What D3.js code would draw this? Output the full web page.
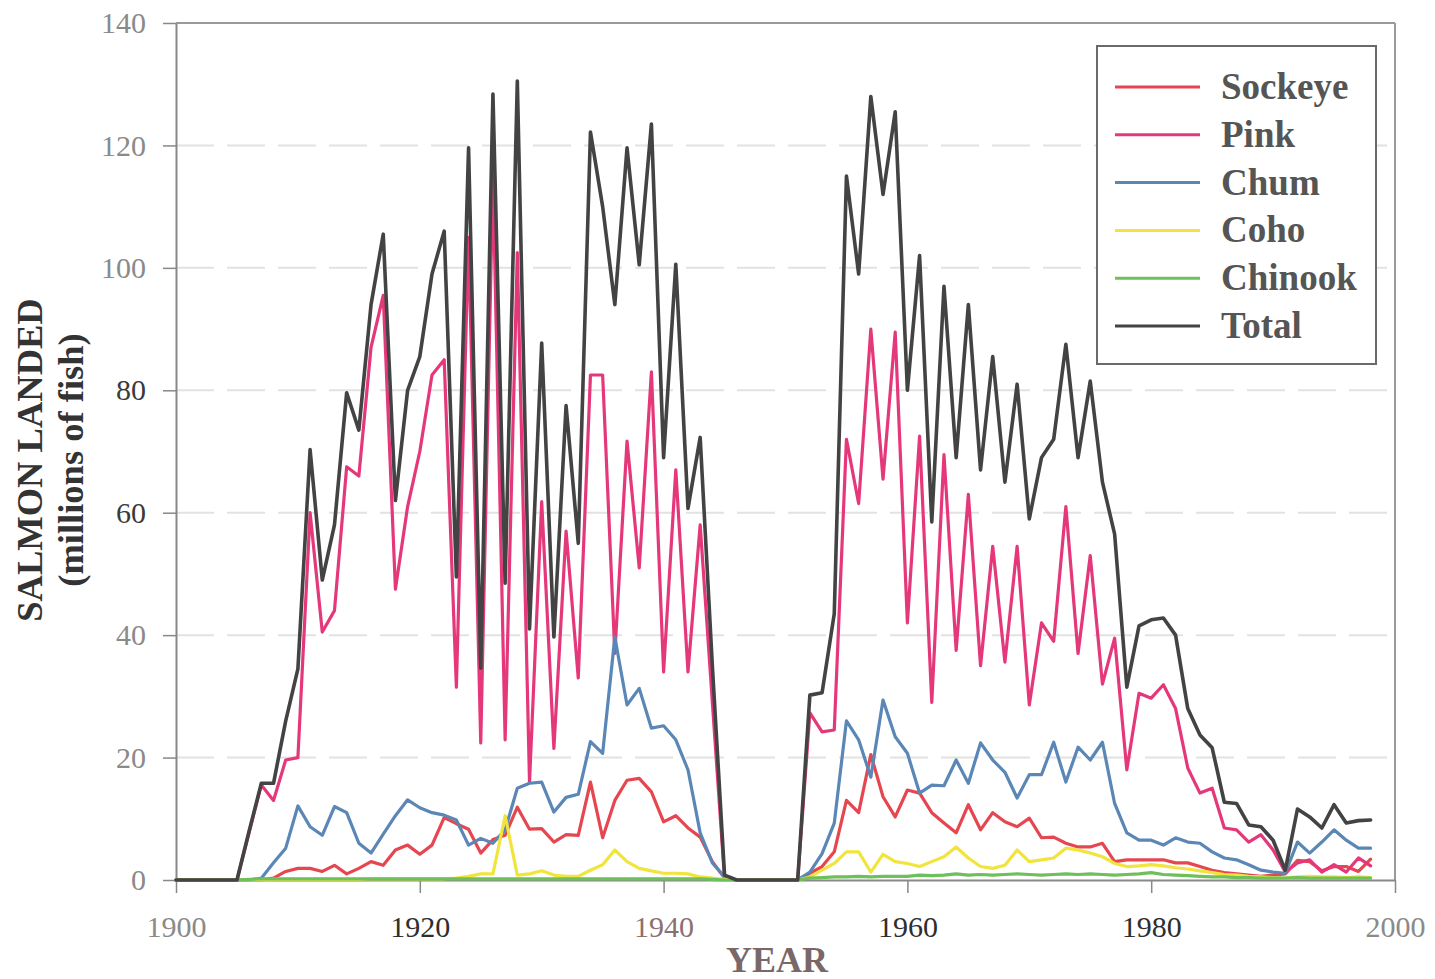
<!DOCTYPE html>
<html>
<head>
<meta charset="utf-8">
<script src="https://cdn.jsdelivr.net/npm/d3@7"></script>
<style>
  html, body { margin: 0; padding: 0; background: #fff; }
  svg { display: block; }
  text { font-family: "Liberation Serif", "DejaVu Serif", serif; }
</style>
</head>
<body>
<svg id="chart" width="1435" height="979"></svg>
<script>
// Salmon landed per year, millions of fish
const years = [
  1900,1901,1902,1903,1904,1905,1906,1907,1908,1909,
  1910,1911,1912,1913,1914,1915,1916,1917,1918,1919,
  1920,1921,1922,1923,1924,1925,1926,1927,1928,1929,
  1930,1931,1932,1933,1934,1935,1936,1937,1938,1939,
  1940,1941,1942,1943,1944,1945,1946,1947,1948,1949,
  1950,1951,1952,1953,1954,1955,1956,1957,1958,1959,
  1960,1961,1962,1963,1964,1965,1966,1967,1968,1969,
  1970,1971,1972,1973,1974,1975,1976,1977,1978,1979,
  1980,1981,1982,1983,1984,1985,1986,1987,1988,1989,
  1990,1991,1992,1993,1994,1995,1996,1997,1998
];

const sockeye = [
  0,0,0,0,0,0,0,0,0.3,1.4,
  1.9,1.9,1.4,2.4,1,1.9,3,2.4,4.9,5.7,
  4.2,5.7,10.2,9.2,8.3,4.4,6.6,7.3,11.9,8.3,
  8.4,6.2,7.4,7.3,16,6.9,13,16.3,16.6,14.4,
  9.5,10.5,8.5,7,3,0.3,0,0,0,0,
  0,0,1.1,2.2,4.6,13,11,20.5,13.6,10.3,
  14.7,14.2,11,9.3,7.7,12.3,8.2,11,9.5,8.7,
  10.1,6.9,7,6,5.4,5.4,6,3,3.3,3.3,
  3.3,3.3,2.8,2.8,2.2,1.6,1.2,1,0.8,0.6,
  0.8,1,3.2,3,1.5,2.2,2.2,1.4,3.4
];

const pink = [
  0,0,0,0,0,0,7.8,15.5,13,19.6,
  20,60,40.5,44,67.5,66,87,95.5,47.5,61,
  70,82.5,85,31.5,105,22.4,115,22.9,102.5,16,
  61.8,21.5,57,33,82.5,82.5,37,71.7,51,83,
  34,67,34,58,29,0.2,0,0,0,0,
  0,0,27.3,24.2,24.5,72,61.5,90,65.5,89.5,
  42,72.5,29,69.5,37.5,63,35,54.5,35.6,54.5,
  28.6,42,39,61,37,53,32,39.5,18,30.5,
  29.7,31.9,28,18.3,14.2,15,8.5,8.2,6.2,7.4,
  4.9,1.3,2.8,3.3,1.3,2.5,1.3,3.6,2.3
];

const chum = [
  0,0,0,0,0,0,0,0.3,2.8,5.2,
  12.1,8.7,7.3,12,11,6,4.4,7.5,10.5,13.1,
  11.8,11,10.6,9.8,5.7,6.8,6,8.2,15,15.8,
  16,11.1,13.5,14,22.6,20.7,39.7,28.6,31.3,24.8,
  25.2,22.9,18,7.7,2.8,0.5,0,0,0,0,
  0,0,1.3,4.3,9.3,26,22.9,16.8,29.4,23.4,
  20.7,14.2,15.5,15.4,19.6,15.8,22.4,19.6,17.6,13.4,
  17.2,17.2,22.5,16,21.7,19.6,22.5,12.5,7.7,6.5,
  6.5,5.7,6.9,6.2,6,4.6,3.6,3.3,2.5,1.6,
  1.3,1.1,6.2,4.4,6.2,8.2,6.5,5.2,5.2
];

const coho = [
  0,0,0,0,0,0,0,0,0.1,0.1,
  0.1,0.1,0.1,0.1,0.1,0.1,0.2,0.2,0.2,0.2,
  0.2,0.2,0.2,0.3,0.6,1,1,10.5,0.8,1,
  1.5,0.8,0.6,0.6,1.6,2.5,4.9,3,1.9,1.5,
  1.1,1.1,1,0.5,0.3,0.1,0,0,0,0,
  0,0,0.5,1.6,2.7,4.6,4.6,1.3,4.2,3,
  2.7,2.2,3,3.8,5.4,3.6,2.2,1.9,2.4,4.9,
  3,3.3,3.6,5.2,4.9,4.4,3.8,2.7,2.2,2.3,
  2.5,2.3,2,1.8,1.5,1.2,0.9,0.8,0.6,0.5,
  0.4,0.3,0.5,0.6,0.5,0.5,0.4,0.5,0.4
];

const chinook = [
  0,0,0,0,0,0,0.1,0.2,0.2,0.2,
  0.2,0.2,0.2,0.2,0.2,0.2,0.2,0.2,0.2,0.2,
  0.2,0.2,0.2,0.2,0.2,0.2,0.2,0.2,0.2,0.2,
  0.2,0.2,0.2,0.2,0.2,0.2,0.2,0.2,0.2,0.2,
  0.2,0.2,0.2,0.2,0.1,0,0,0,0,0,
  0,0,0.3,0.4,0.5,0.5,0.6,0.5,0.6,0.6,
  0.6,0.8,0.7,0.8,1.0,0.8,0.9,0.8,0.9,1.0,
  0.9,0.8,0.9,1.0,0.9,1.0,0.9,0.8,0.9,1.0,
  1.2,0.9,0.8,0.7,0.6,0.5,0.5,0.4,0.4,0.3,
  0.3,0.3,0.4,0.3,0.3,0.3,0.3,0.3,0.3
];

const total = [
  0,0,0,0,0,0,8,15.8,15.8,26,
  34.5,70.3,49,58,79.6,73.5,94,105.5,62,80,
  85.5,99,106,49.5,119.6,34.6,128.4,48.5,130.5,41,
  87.7,39.7,77.5,55,122.2,110,94,119.6,100.5,123.5,
  69,100.6,60.7,72.3,35,0.8,0,0,0,0,
  0,0,30.2,30.6,43.5,115,99,128,112,125.5,
  80,102,58.5,97,69,94,67,85.5,65,81,
  59,69,72,87.5,69,81.5,65,56.5,31.5,41.5,
  42.5,42.8,40,28,23.7,21.6,12.7,12.5,9,8.7,
  6.5,1.6,11.6,10.3,8.5,12.3,9.3,9.7,9.8
];

const seriesNames = ["Sockeye", "Pink", "Chum", "Coho", "Chinook", "Total"];
const seriesValues = [sockeye, pink, chum, coho, chinook, total];

const xTicks = [1900, 1920, 1940, 1960, 1980, 2000];
const yTicks = [0, 20, 40, 60, 80, 100, 120, 140];

const yTitle = ["SALMON LANDED", "(millions of fish)"];
const xTitle = "YEAR";

// ---- drawing ----
const colors = {
  Sockeye: "#e6464f",
  Pink: "#e5387a",
  Chum: "#5a87b6",
  Coho: "#f1e43c",
  Chinook: "#6fbf5a",
  Total: "#434343"
};

const svg = d3.select("#chart");
const plotLeft = 176, plotRight = 1395, plotTop = 23, plotBottom = 880;

const x = d3.scaleLinear().domain([1900, 2000]).range([plotLeft, plotRight]);
const y = d3.scaleLinear().domain([0, 140]).range([plotBottom, plotTop]);

// dashed gridlines
svg.append("g")
  .selectAll("line")
  .data(yTicks.filter(t => t > 0 && t < 140))
  .join("line")
  .attr("x1", plotLeft).attr("x2", plotRight)
  .attr("y1", d => y(d)).attr("y2", d => y(d))
  .attr("stroke", "#e2e2e2")
  .attr("stroke-width", 2)
  .attr("stroke-dasharray", "38,13");

// plot frame (top and right edges)
svg.append("line")
  .attr("x1", plotLeft).attr("x2", plotRight).attr("y1", plotTop).attr("y2", plotTop)
  .attr("stroke", "#9a9a9a").attr("stroke-width", 2);
svg.append("line")
  .attr("x1", plotRight).attr("x2", plotRight).attr("y1", plotTop).attr("y2", plotBottom)
  .attr("stroke", "#9a9a9a").attr("stroke-width", 2);

// axes
const yLabelColor = v => (v === 60 || v === 80) ? "#3a3a3a" : "#8a8a8a";
const xLabelColor = v => (v === 1920 || v === 1960 || v === 1980) ? "#2e2e2e"
  : (v === 1940 ? "#8c7070" : "#8a8a8a");

const yAxis = svg.append("g")
  .attr("transform", `translate(${plotLeft},0)`)
  .call(d3.axisLeft(y).tickValues(yTicks).tickSize(13).tickPadding(17).tickSizeOuter(0));
yAxis.select(".domain").attr("stroke", "#888").attr("stroke-width", 2);
yAxis.selectAll(".tick line").attr("stroke", "#888").attr("stroke-width", 1.5);
yAxis.selectAll(".tick text")
  .attr("font-family", "Liberation Serif, serif")
  .attr("font-size", 30)
  .attr("fill", d => yLabelColor(d));

const xAxis = svg.append("g")
  .attr("transform", `translate(0,${plotBottom})`)
  .call(d3.axisBottom(x).tickValues(xTicks).tickFormat(d3.format("d"))
    .tickSize(13).tickPadding(23).tickSizeOuter(0));
xAxis.select(".domain").attr("stroke", "#888").attr("stroke-width", 2);
xAxis.selectAll(".tick line").attr("stroke", "#888").attr("stroke-width", 1.5);
xAxis.selectAll(".tick text")
  .attr("font-family", "Liberation Serif, serif")
  .attr("font-size", 30)
  .attr("fill", d => xLabelColor(d));

// series lines
const line = d3.line()
  .x((d, i) => x(years[i]))
  .y(d => y(d));

const lineG = svg.append("g");
seriesNames.forEach((name, k) => {
  lineG.append("path")
    .datum(seriesValues[k])
    .attr("d", line)
    .attr("fill", "none")
    .attr("stroke", colors[name])
    .attr("stroke-width", name === "Total" ? 3.6 : 3.2)
    .attr("stroke-linejoin", "round")
    .attr("stroke-linecap", "round");
});

// axis titles
const yt = svg.append("text")
  .attr("transform", "translate(42,460) rotate(-90)")
  .attr("text-anchor", "middle")
  .attr("font-weight", "bold")
  .attr("font-size", 36.5)
  .attr("fill", "#333");
yt.append("tspan").attr("x", 0).attr("dy", 0).text(yTitle[0]);
yt.append("tspan").attr("x", 0).attr("dy", 41).text(yTitle[1]);

svg.append("text")
  .attr("x", 777).attr("y", 972)
  .attr("text-anchor", "middle")
  .attr("font-weight", "bold")
  .attr("font-size", 36)
  .attr("fill", "#7a6868")
  .text(xTitle);

// legend
const lg = svg.append("g");
lg.append("rect")
  .attr("x", 1097).attr("y", 46).attr("width", 279).attr("height", 318)
  .attr("fill", "#fff").attr("stroke", "#6a6a6a").attr("stroke-width", 2);
seriesNames.forEach((name, i) => {
  const cy = 87 + i * 47.8;
  lg.append("line")
    .attr("x1", 1115).attr("x2", 1200).attr("y1", cy).attr("y2", cy)
    .attr("stroke", colors[name]).attr("stroke-width", 3);
  lg.append("text")
    .attr("x", 1221).attr("y", cy + 12)
    .attr("font-weight", "bold")
    .attr("font-size", 37)
    .attr("fill", "#555")
    .text(name);
});
</script>
</body>
</html>
